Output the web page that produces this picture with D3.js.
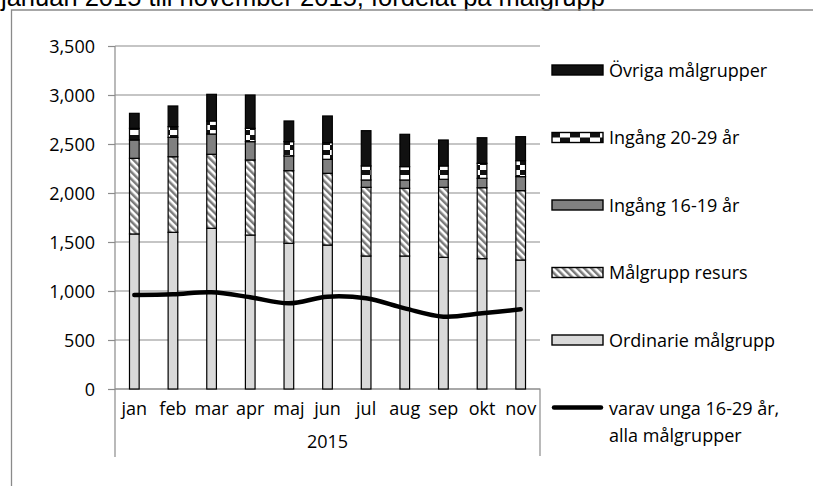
<!DOCTYPE html>
<html>
<head>
<meta charset="utf-8">
<script src="https://cdn.jsdelivr.net/npm/d3@7/dist/d3.min.js"></script>
<style>
	body { margin: 0; background: #fff; }
	svg { display: block; }
</style>
</head>
<body>
<script>

// data
var months = ['jan', 'feb', 'mar', 'apr', 'maj', 'jun', 'jul', 'aug', 'sep', 'okt', 'nov'];
var yearLabel = '2015';
var ordinarie = [1582, 1599, 1640, 1571, 1487, 1469, 1357, 1357, 1344, 1330, 1316];
var resurs = [772, 771, 755, 766, 741, 732, 701, 691, 714, 724, 708];
var ingang1619 = [187, 198, 207, 187, 150, 143, 75, 85, 82, 96, 143];
var ingang2029 = [119, 109, 133, 136, 146, 170, 143, 136, 136, 153, 163];
var ovriga = [153, 211, 272, 340, 211, 272, 360, 330, 265, 261, 245];
var unga = [959, 966, 987, 936, 874, 942, 925, 823, 738, 772, 813];
var yTicks = [0, 500, 1000, 1500, 2000, 2500, 3000, 3500];

var seriesKeys = ['ordinarie', 'resurs', 'ingang1619', 'ingang2029', 'ovriga'];
var seriesNames = {
	ordinarie: 'Ordinarie målgrupp',
	resurs: 'Målgrupp resurs',
	ingang1619: 'Ingång 16-19 år',
	ingang2029: 'Ingång 20-29 år',
	ovriga: 'Övriga målgrupper'
};
var lineName = ['varav unga 16-29 år,', 'alla målgrupper'];
var title = 'januari 2015 till november 2015, fördelat på målgrupp';

var WIDTH = 813, HEIGHT = 486;
var FONT = "'Open Sans', 'Noto Sans', sans-serif";
var FONT_SIZE = 18;
var GRID_COLOR = '#8c8c8c';

var PLOT_LEFT = 115, PLOT_RIGHT = 540, PLOT_TOP = 46, PLOT_BOTTOM = 389;

var svg = d3.select('body').append('svg')
	.attr('width', WIDTH)
	.attr('height', HEIGHT);

// patterns
var defs = svg.append('defs');

var hatch = defs.append('pattern')
	.attr('id', 'hatch')
	.attr('patternUnits', 'userSpaceOnUse')
	.attr('width', 5)
	.attr('height', 5)
	.attr('patternTransform', 'rotate(-45)');
hatch.append('rect').attr('width', 5).attr('height', 5).attr('fill', '#fff');
hatch.append('rect').attr('width', 2.5).attr('height', 5).attr('fill', '#7a7a7a');

var checker = defs.append('pattern')
	.attr('id', 'checker')
	.attr('patternUnits', 'userSpaceOnUse')
	.attr('width', 20)
	.attr('height', 10);
checker.append('rect').attr('width', 20).attr('height', 10).attr('fill', '#fff');
checker.append('rect').attr('x', 0).attr('y', 0).attr('width', 10).attr('height', 5).attr('fill', '#111');
checker.append('rect').attr('x', 10).attr('y', 5).attr('width', 10).attr('height', 5).attr('fill', '#111');

var fills = {
	ordinarie: '#d9d9d9',
	resurs: 'url(#hatch)',
	ingang1619: '#808080',
	ingang2029: 'url(#checker)',
	ovriga: '#111111'
};

// title, clipped at the top edge
svg.append('text')
	.attr('x', 1)
	.attr('y', 6)
	.attr('font-family', "'Liberation Sans', Arial, sans-serif")
	.attr('font-size', 25.5)
	.attr('fill', '#000')
	.text(title);

// outer chart frame (only top and left edges are in view)
svg.append('path')
	.attr('d', 'M11.5,' + HEIGHT + 'V10H' + WIDTH)
	.attr('fill', 'none')
	.attr('stroke', '#8a8a8a')
	.attr('stroke-width', 1.3);

var x = d3.scaleBand()
	.domain(months)
	.range([PLOT_LEFT, PLOT_RIGHT]);

var y = d3.scaleLinear()
	.domain([0, 3500])
	.range([PLOT_BOTTOM, PLOT_TOP]);

// gridlines
svg.append('g')
	.selectAll('line')
	.data(yTicks)
	.enter().append('line')
	.attr('x1', PLOT_LEFT)
	.attr('x2', PLOT_RIGHT)
	.attr('y1', function(d) { return y(d); })
	.attr('y2', function(d) { return y(d); })
	.attr('stroke', GRID_COLOR)
	.attr('stroke-width', 1.2);

// y axis
var yAxis = svg.append('g')
	.attr('transform', 'translate(' + PLOT_LEFT + ',0)')
	.call(d3.axisLeft(y)
		.tickValues(yTicks)
		.tickSize(7)
		.tickPadding(13)
		.tickFormat(d3.format(',')));
yAxis.select('.domain').remove();
yAxis.selectAll('.tick line').attr('stroke', GRID_COLOR).attr('stroke-width', 1.2);
yAxis.selectAll('.tick text')
	.attr('font-family', FONT)
	.attr('font-size', FONT_SIZE)
	.attr('fill', '#000')
	.attr('dy', '0.36em');

// axis frame lines: vertical axis down into the category box, bottom axis, right box edge
svg.append('path')
	.attr('d', 'M' + PLOT_LEFT + ',' + PLOT_TOP + 'V457'
		+ 'M' + PLOT_LEFT + ',' + PLOT_BOTTOM + 'H' + PLOT_RIGHT + 'V456')
	.attr('fill', 'none')
	.attr('stroke', GRID_COLOR)
	.attr('stroke-width', 1.2);

// stacked bars
var table = months.map(function(m, i) {
	return {
		month: m,
		ordinarie: ordinarie[i],
		resurs: resurs[i],
		ingang1619: ingang1619[i],
		ingang2029: ingang2029[i],
		ovriga: ovriga[i]
	};
});

var stacked = d3.stack().keys(seriesKeys)(table);
var barWidth = x.bandwidth() * 0.25;

svg.append('g')
	.selectAll('g')
	.data(stacked)
	.enter().append('g')
	.attr('fill', function(s) { return fills[s.key]; })
	.selectAll('rect')
	.data(function(s) { return s; })
	.enter().append('rect')
	.attr('x', function(d) { return x(d.data.month) + (x.bandwidth() - barWidth) / 2; })
	.attr('y', function(d) { return y(d[1]); })
	.attr('width', barWidth)
	.attr('height', function(d) { return y(d[0]) - y(d[1]); })
	.attr('stroke', '#000')
	.attr('stroke-width', 1.2);

// line: varav unga
var line = d3.line()
	.x(function(d, i) { return x(months[i]) + x.bandwidth() / 2; })
	.y(function(d) { return y(d); })
	.curve(d3.curveCatmullRom.alpha(0.5));

svg.append('path')
	.datum(unga)
	.attr('d', line)
	.attr('fill', 'none')
	.attr('stroke', '#000')
	.attr('stroke-width', 4.5)
	.attr('stroke-linecap', 'round')
	.attr('stroke-linejoin', 'round');

// category axis labels
var xAxis = svg.append('g')
	.attr('transform', 'translate(0,' + PLOT_BOTTOM + ')')
	.call(d3.axisBottom(x).tickSize(0).tickPadding(13));
xAxis.select('.domain').remove();
xAxis.selectAll('.tick text')
	.attr('font-family', FONT)
	.attr('font-size', FONT_SIZE)
	.attr('fill', '#000');

svg.append('text')
	.attr('x', (PLOT_LEFT + PLOT_RIGHT) / 2)
	.attr('y', 448)
	.attr('text-anchor', 'middle')
	.attr('font-family', FONT)
	.attr('font-size', FONT_SIZE)
	.attr('fill', '#000')
	.text(yearLabel);

// legend
var LEGEND_X = 552, LEGEND_TEXT_X = 609, SWATCH_W = 51, SWATCH_H = 10;
var legendOrder = ['ovriga', 'ingang2029', 'ingang1619', 'resurs', 'ordinarie'];
var legendRowY = [70, 137.5, 205, 272.5, 340, 407.5];

var legend = svg.append('g');

var rows = legend.selectAll('g')
	.data(legendOrder)
	.enter().append('g')
	.attr('transform', function(d, i) { return 'translate(0,' + legendRowY[i] + ')'; });

rows.append('rect')
	.attr('x', LEGEND_X)
	.attr('y', -SWATCH_H / 2)
	.attr('width', SWATCH_W)
	.attr('height', SWATCH_H)
	.attr('fill', function(d) { return fills[d]; })
	.attr('stroke', '#000')
	.attr('stroke-width', 1.4);

rows.append('text')
	.attr('x', LEGEND_TEXT_X)
	.attr('y', 6.5)
	.attr('font-family', FONT)
	.attr('font-size', FONT_SIZE)
	.attr('fill', '#000')
	.text(function(d) { return seriesNames[d]; });

var lineRowY = legendRowY[5];
legend.append('line')
	.attr('x1', LEGEND_X + 2)
	.attr('x2', LEGEND_X + SWATCH_W - 2)
	.attr('y1', lineRowY)
	.attr('y2', lineRowY)
	.attr('stroke', '#000')
	.attr('stroke-width', 4.5)
	.attr('stroke-linecap', 'round');

legend.append('text')
	.attr('font-family', FONT)
	.attr('font-size', FONT_SIZE)
	.attr('fill', '#000')
	.selectAll('tspan')
	.data(lineName)
	.enter().append('tspan')
	.attr('x', LEGEND_TEXT_X)
	.attr('y', function(d, i) { return lineRowY + 7 + i * 27; })
	.text(function(d) { return d; });

</script>
</body>
</html>
